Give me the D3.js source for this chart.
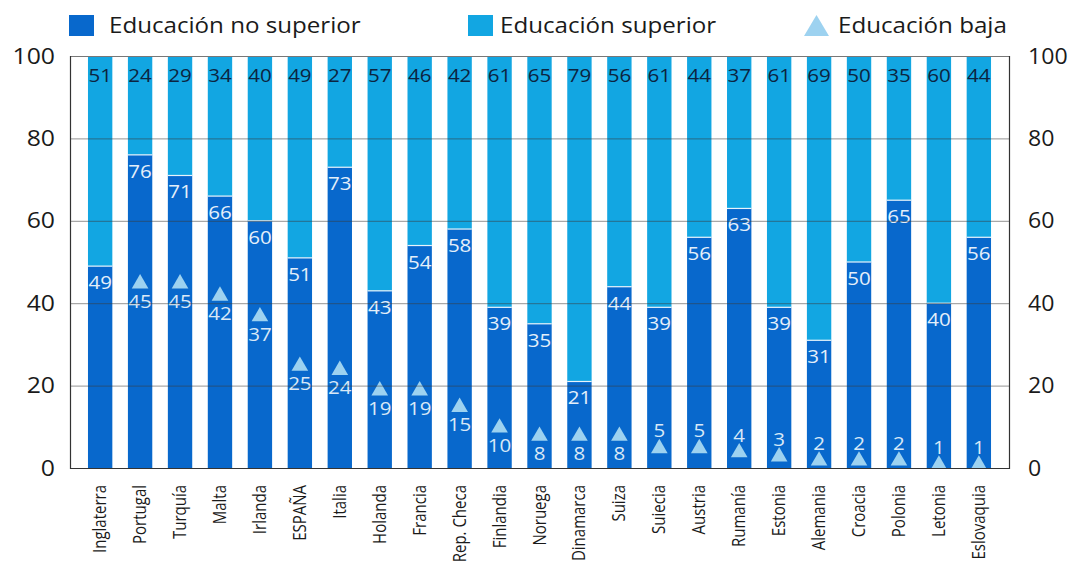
<!DOCTYPE html>
<html>
<head>
<meta charset="utf-8">
<script src="https://cdn.jsdelivr.net/npm/d3@7"></script>
<style>
  html, body { margin: 0; padding: 0; background: #fff; }
  svg text { font-family: "Open Sans", "Noto Sans", sans-serif; }
</style>
</head>
<body>
<svg id="chart" width="1070" height="561"></svg>
<script>
// Países ordenados como en el gráfico
const categories = ["Inglaterra", "Portugal", "Turquía", "Malta", "Irlanda", "ESPAÑA", "Italia",
  "Holanda", "Francia", "Rep. Checa", "Finlandia", "Noruega", "Dinamarca", "Suiza", "Suiecia",
  "Austria", "Rumanía", "Estonia", "Alemania", "Croacia", "Polonia", "Letonia", "Eslovaquia"];

// Educación no superior (%)
const noSuperior = [49, 76, 71, 66, 60, 51, 73, 43, 54, 58, 39, 35, 21, 44, 39, 56, 63, 39, 31, 50, 65, 40, 56];
// Educación superior (%)
const superior   = [51, 24, 29, 34, 40, 49, 27, 57, 46, 42, 61, 65, 79, 56, 61, 44, 37, 61, 69, 50, 35, 60, 44];
// Educación baja (%) — sin dato para Inglaterra
const baja       = [null, 45, 45, 42, 37, 25, 24, 19, 19, 15, 10, 8, 8, 8, 5, 5, 4, 3, 2, 2, 2, 1, 1];

const yTicks = [0, 20, 40, 60, 80, 100];

const colDark = "#0868cc";
const colLight = "#12a6e2";
const colTri = "#9dd2f0";

const svg = d3.select("#chart");
const plot = { left: 70, right: 1009, top: 56, bottom: 468 };

// Texto ensanchado horizontalmente alrededor de su punto de anclaje
function widen(sel, sx) {
  sel.each(function () {
    const t = d3.select(this);
    const tx = +t.attr("x") || 0, ty = +t.attr("y") || 0;
    t.attr("x", 0).attr("y", 0).attr("transform", `translate(${tx},${ty}) scale(${sx},1)`);
  });
}

const x = d3.scaleBand()
  .domain(categories)
  .range([plot.left, plot.right])
  .paddingInner(0.39)
  .paddingOuter(0.45);

const y = d3.scaleLinear().domain([0, 100]).range([plot.bottom, plot.top]);

const rows = categories.map((c, i) => ({ c, lo: noSuperior[i], hi: superior[i], b: baja[i] }));
const cx = d => x(d.c) + x.bandwidth() / 2;

// Barras apiladas
const g = svg.append("g");
g.selectAll("rect.hi").data(rows).join("rect")
  .attr("x", d => x(d.c)).attr("width", x.bandwidth())
  .attr("y", d => y(d.lo + d.hi)).attr("height", d => y(d.lo) - y(d.lo + d.hi))
  .attr("fill", colLight);
g.selectAll("rect.lo").data(rows).join("rect")
  .attr("x", d => x(d.c)).attr("width", x.bandwidth())
  .attr("y", d => y(d.lo)).attr("height", d => y(0) - y(d.lo))
  .attr("fill", colDark);
// fina línea clara entre segmentos
g.selectAll("line.sep").data(rows).join("line")
  .attr("x1", d => x(d.c)).attr("x2", d => x(d.c) + x.bandwidth())
  .attr("y1", d => y(d.lo)).attr("y2", d => y(d.lo))
  .attr("stroke", "#e8f4fc").attr("stroke-width", 1.2);

// Líneas de cuadrícula sobre las barras
svg.append("g").selectAll("line").data(yTicks.filter(t => t > 0 && t < 100)).join("line")
  .attr("x1", plot.left).attr("x2", plot.right)
  .attr("y1", d => y(d) + 0.5).attr("y2", d => y(d) + 0.5)
  .attr("stroke", "#3a3a3a").attr("stroke-opacity", 0.55).attr("stroke-width", 1);

// Marco
svg.append("line").attr("x1", plot.left).attr("x2", plot.right).attr("y1", plot.top + 0.5).attr("y2", plot.top + 0.5)
  .attr("stroke", "#777").attr("stroke-width", 1);
svg.append("path")
  .attr("d", `M${plot.left + 0.5},${plot.top}V${plot.bottom + 0.5}H${plot.right + 0.5}V${plot.top}`)
  .attr("fill", "none").attr("stroke", "#333").attr("stroke-width", 1.2);

// Etiquetas de valores
const hiLab = g.selectAll("text.hi").data(rows).join("text")
  .attr("x", cx).attr("y", y(100) + 26)
  .attr("text-anchor", "middle").attr("font-size", 19).attr("fill", "#0c2440")
  .text(d => d.hi);
const loLab = g.selectAll("text.lo").data(rows).join("text")
  .attr("x", cx).attr("y", d => y(d.lo) + 23)
  .attr("text-anchor", "middle").attr("font-size", 19).attr("fill", "#e4effa")
  .text(d => d.lo);

// Triángulos de educación baja
const tri = d3.symbol().type(d3.symbolTriangle).size(120);
const withB = rows.filter(d => d.b !== null);
g.selectAll("path.tri").data(withB).join("path")
  .attr("d", tri)
  .attr("transform", d => `translate(${cx(d)},${y(d.b) + 1})`)
  .attr("fill", colTri);
const bLab = g.selectAll("text.b").data(withB).join("text")
  .attr("x", cx)
  .attr("y", d => d.b >= 8 ? y(d.b) + 25 : y(d.b) - 10)
  .attr("text-anchor", "middle").attr("font-size", 19).attr("fill", "#d8e8f7")
  .text(d => d.b);
[hiLab, loLab, bLab].forEach(s => widen(s, 1.08));

// Recortar lo que sobresale del marco por debajo
svg.append("rect").attr("x", plot.left).attr("y", plot.bottom + 1).attr("width", plot.right - plot.left + 2).attr("height", 6).attr("fill", "#fff");

// Ejes Y (izquierda y derecha)
const axL = d3.axisLeft(y).tickValues(yTicks).tickSize(0).tickPadding(15);
const axR = d3.axisRight(y).tickValues(yTicks).tickSize(0).tickPadding(19);
const gl = svg.append("g").attr("transform", `translate(${plot.left},0)`).call(axL);
const gr = svg.append("g").attr("transform", `translate(${plot.right},0)`).call(axR);
[gl, gr].forEach((a, i) => {
  a.select(".domain").remove();
  a.selectAll("text").attr("font-size", 21).attr("fill", "#1a1a1a").attr("dy", 0).attr("y", 7)
    .attr("font-family", "'Open Sans', 'Noto Sans', sans-serif");
  widen(a.selectAll("text"), i === 0 ? 1.18 : 1.1);
});

// Eje X con etiquetas verticales
const axB = d3.axisBottom(x).tickSize(0).tickPadding(0);
const gb = svg.append("g").attr("transform", `translate(0,${plot.bottom})`).call(axB);
gb.select(".domain").remove();
gb.selectAll("text")
  .attr("font-size", 15).attr("fill", "#1a1a1a")
  .attr("font-family", "'Open Sans', 'Noto Sans', sans-serif")
  .attr("text-anchor", "end")
  .attr("transform", "rotate(-90) scale(1,1.15)")
  .attr("x", -17).attr("y", 0).attr("dy", "0.35em");

// Leyenda
const leg = svg.append("g");
leg.append("rect").attr("x", 69).attr("y", 15).attr("width", 25).attr("height", 21).attr("fill", colDark);
leg.append("rect").attr("x", 468).attr("y", 15).attr("width", 25).attr("height", 21).attr("fill", colLight);
leg.append("path").attr("d", "M804,36L816.5,15L829,36Z").attr("fill", colTri);
const legText = leg.selectAll("text.l").data([
  { x: 109, t: "Educación no superior" },
  { x: 500, t: "Educación superior" },
  { x: 838, t: "Educación baja" }
]).join("text")
  .attr("x", d => d.x).attr("y", 33).attr("font-size", 21).attr("fill", "#1a1a1a").text(d => d.t);
widen(legText, 1.15);
</script>
</body>
</html>
